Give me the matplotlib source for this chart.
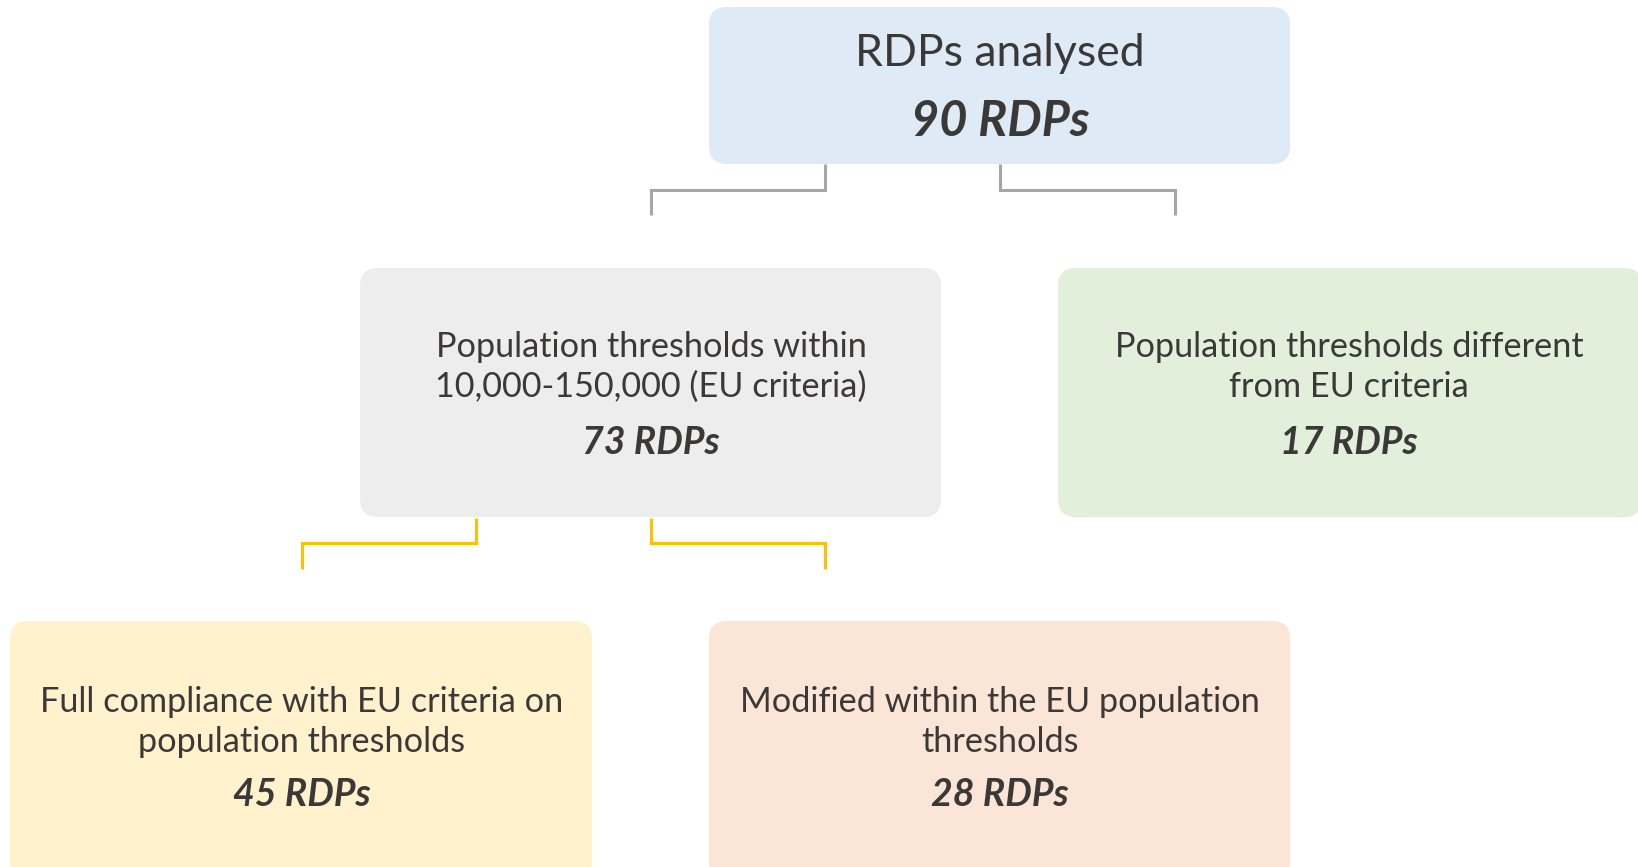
import matplotlib
matplotlib.use("Agg")
import matplotlib.pyplot as plt
from matplotlib.patches import FancyBboxPatch

# ---- data ----
node_labels = [
    "RDPs analysed",
    "Population thresholds within\n10,000-150,000 (EU criteria)",
    "Population thresholds different\nfrom EU criteria",
    "Full compliance with EU criteria on\npopulation thresholds",
    "Modified within the EU population\nthresholds",
]
node_counts = [90, 73, 17, 45, 28]
node_colors = ["#DEEAF6", "#EDEDED", "#E2EFDA", "#FFF2CC", "#FBE5D6"]
edges = [(0, 1), (0, 2), (1, 3), (1, 4)]
edge_colors = ["#A6A6A6", "#A6A6A6", "#FFC000", "#FFC000"]

# ---- layout (pixel coords, y down) ----
W, H = 1638, 867
boxes = [
    (709, 7, 1290, 164),     # x0, y0, x1, y1
    (360, 268, 941, 517),
    (1058, 268, 1642, 517),
    (10, 621, 592, 880),
    (709, 621, 1290, 880),
]
# connector: (x_start, x_end, y_top, y_mid, y_bottom)
connectors = [
    (825, 651, 164, 190, 215),
    (1000, 1175, 164, 190, 215),
    (476, 302, 518, 543, 569),
    (651, 825, 518, 543, 569),
]

TXT = "#3B3838"
FONT = ["Lato", "DejaVu Sans"]

fig = plt.figure(figsize=(W / 100, H / 100), dpi=100)
ax = fig.add_axes([0, 0, 1, 1])
ax.set_xlim(0, W)
ax.set_ylim(H, 0)
ax.axis("off")

for i, (x0, y0, x1, y1) in enumerate(boxes):
    p = FancyBboxPatch((x0, y0), x1 - x0, y1 - y0,
                       boxstyle="round,pad=0,rounding_size=18",
                       facecolor=node_colors[i], edgecolor="none")
    ax.add_patch(p)

for (xs, xe, yt, ym, yb), c in zip(connectors, edge_colors):
    ax.plot([xs, xs, xe, xe], [yt, ym, ym, yb], color=c, lw=2.2,
            solid_joinstyle="miter", solid_capstyle="butt")

# top node
ax.text(1000, 53, node_labels[0], ha="center", va="center",
        fontsize=32, color=TXT, family=FONT)
ax.text(1000, 121, f"{node_counts[0]} RDPs", ha="center", va="center",
        fontsize=35, color=TXT, family=FONT, weight="bold", style="italic")

centers = [None, (651, 367, 442), (1349, 367, 442), (302, 722, 794), (1000, 722, 794)]
for i in range(1, 5):
    cx, ty, cy = centers[i]
    ax.text(cx, ty, node_labels[i], ha="center", va="center",
            fontsize=24.7, color=TXT, family=FONT, linespacing=1.28)
    ax.text(cx, cy, f"{node_counts[i]} RDPs", ha="center", va="center",
            fontsize=27, color=TXT, family=FONT, weight="bold", style="italic")

fig.savefig("out.png", dpi=100, facecolor="white")
